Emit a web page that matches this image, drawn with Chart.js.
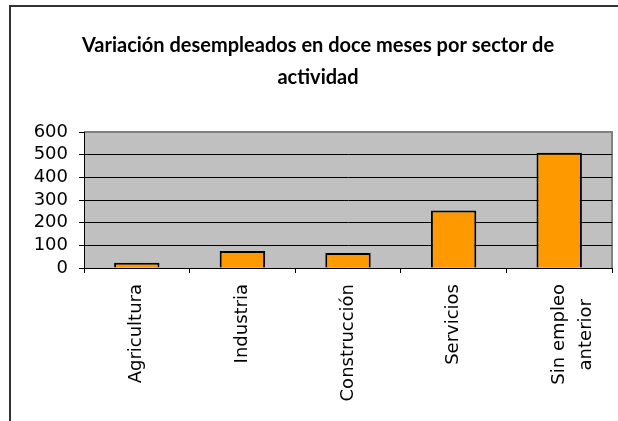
<!DOCTYPE html>
<html>
<head>
<meta charset="utf-8">
<script src="https://cdn.jsdelivr.net/npm/chart.js@4"></script>
<style>
  html, body { margin: 0; padding: 0; background: #fff; }
  #wrap { position: relative; width: 618px; height: 421px; overflow: hidden; }
  #frame { position: absolute; left: 9px; top: 5px; width: 700px; height: 500px; border: 2px solid #333; box-sizing: border-box; }
  canvas { position: absolute; left: 0; top: 0; }
</style>
</head>
<body>
<div id="wrap">
  <div id="frame"></div>
  <canvas id="c" width="618" height="421"></canvas>
</div>
<script>
const titleLines = ["Variación desempleados en doce meses por sector de", "actividad"];
const categories = ["Agricultura", "Industria", "Construcción", "Servicios", ["Sin empleo", "anterior  \u2009"]];
const values = [23, 75, 66, 254, 509];
const yTicks = [0, 100, 200, 300, 400, 500, 600];

const plotBg = {
  id: 'plotBg',
  beforeDraw(chart) {
    const {ctx, chartArea: a} = chart;
    ctx.save();
    ctx.fillStyle = '#c0c0c0';
    ctx.fillRect(a.left, a.top, a.right - a.left, a.bottom - a.top);
    ctx.strokeStyle = '#808080';
    ctx.lineWidth = 2;
    ctx.beginPath();
    ctx.moveTo(a.left, a.top);
    ctx.lineTo(a.right, a.top);
    ctx.lineTo(a.right, a.bottom);
    ctx.stroke();
    ctx.restore();
  }
};

new Chart(document.getElementById('c'), {
  type: 'bar',
  data: {
    labels: categories,
    datasets: [{
      data: values,
      backgroundColor: '#ff9900',
      borderColor: '#000',
      borderWidth: 2,
      barPercentage: 0.43,
      categoryPercentage: 1
    }]
  },
  options: {
    responsive: false,
    animation: false,
    devicePixelRatio: 1,
    layout: { padding: { left: 24, right: 6, top: 0, bottom: 0 } },
    plugins: {
      legend: { display: false },
      tooltip: { enabled: false },
      title: {
        display: true,
        text: titleLines,
        color: '#000',
        font: { family: 'Lato', weight: 'bold', size: 20, lineHeight: '32px' },
        padding: { top: 30, bottom: 38 }
      }
    },
    scales: {
      x: {
        grid: { display: true, drawOnChartArea: false, drawTicks: true, tickLength: 5, color: '#000', offset: true },
        border: { color: '#000', width: 1 },
        ticks: {
          color: '#000',
          font: { family: 'DejaVu Sans', size: 18, lineHeight: 1.5 },
          minRotation: 90, maxRotation: 90,
          padding: 11,
          autoSkip: false
        },
        afterFit(s) { s.height = 153; s.paddingLeft = 0; s.paddingRight = 0; }
      },
      y: {
        min: 0, max: 600,
        afterBuildTicks(s) { s.ticks = yTicks.map(v => ({ value: v })); },
        grid: {
          color: ctx => (ctx.tick && ctx.tick.value === 600) ? '#808080' : '#000',
          tickColor: '#000',
          tickLength: 5,
          lineWidth: 1
        },
        border: { color: '#000', width: 1 },
        ticks: {
          color: '#000',
          font: { family: 'DejaVu Sans', size: 18 },
          padding: 11,
          autoSkip: false
        },
        afterFit(s) { s.width = 60; }
      }
    }
  },
  plugins: [plotBg]
});
</script>
</body>
</html>
